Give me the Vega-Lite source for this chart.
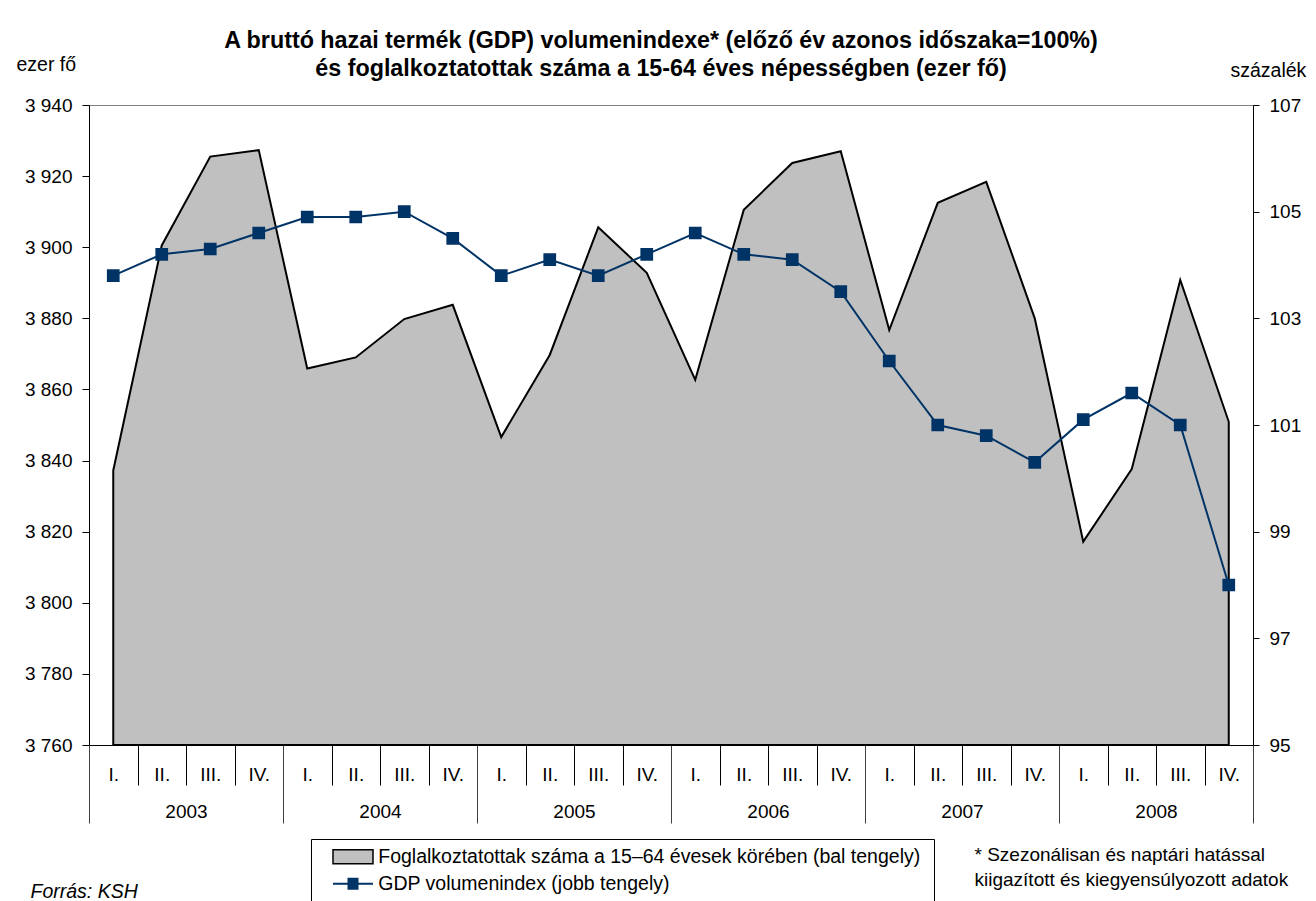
{
  "$schema": "https://vega.github.io/schema/vega-lite/v6.json",
  "width": 1164,
  "height": 640,
  "autosize": {"type": "none"},
  "padding": {"left": 89, "top": 105, "right": 63, "bottom": 156},
  "config": {
    "font": "Liberation Sans",
    "view": {"stroke": "#808080", "strokeWidth": 1},
    "axis": {"labelColor": "black", "tickColor": "black", "domainColor": "black", "labelFont": "Liberation Sans", "titleFont": "Liberation Sans", "titleColor": "black", "grid": false, "titleFontWeight": "normal"},
    "legend": {"labelFont": "Liberation Sans", "titleFont": "Liberation Sans"}
  },
  "title": {
    "text": ["A bruttó hazai termék (GDP) volumenindexe* (előző év azonos időszaka=100%)", "és foglalkoztatottak száma a 15-64 éves népességben (ezer fő)"],
    "fontSize": 23.3,
    "fontWeight": "bold",
    "anchor": "middle",
    "dx": -10,
    "offset": 22,
    "dy": 49,
    "lineHeight": 28,
    "color": "black",
    "font": "Liberation Sans"
  },
  "data": {
    "values": [
      {"t": 1, "year": 2003, "quarter": "I.", "emp": 3837.2, "gdp": 103.8},
      {"t": 2, "year": 2003, "quarter": "II.", "emp": 3900.5, "gdp": 104.2},
      {"t": 3, "year": 2003, "quarter": "III.", "emp": 3925.5, "gdp": 104.3},
      {"t": 4, "year": 2003, "quarter": "IV.", "emp": 3927.3, "gdp": 104.6},
      {"t": 5, "year": 2004, "quarter": "I.", "emp": 3865.9, "gdp": 104.9},
      {"t": 6, "year": 2004, "quarter": "II.", "emp": 3869.0, "gdp": 104.9},
      {"t": 7, "year": 2004, "quarter": "III.", "emp": 3879.8, "gdp": 105.0},
      {"t": 8, "year": 2004, "quarter": "IV.", "emp": 3883.8, "gdp": 104.5},
      {"t": 9, "year": 2005, "quarter": "I.", "emp": 3846.6, "gdp": 103.8},
      {"t": 10, "year": 2005, "quarter": "II.", "emp": 3869.7, "gdp": 104.1},
      {"t": 11, "year": 2005, "quarter": "III.", "emp": 3905.6, "gdp": 103.8},
      {"t": 12, "year": 2005, "quarter": "IV.", "emp": 3892.8, "gdp": 104.2},
      {"t": 13, "year": 2006, "quarter": "I.", "emp": 3862.7, "gdp": 104.6},
      {"t": 14, "year": 2006, "quarter": "II.", "emp": 3910.5, "gdp": 104.2},
      {"t": 15, "year": 2006, "quarter": "III.", "emp": 3923.7, "gdp": 104.1},
      {"t": 16, "year": 2006, "quarter": "IV.", "emp": 3927.0, "gdp": 103.5},
      {"t": 17, "year": 2007, "quarter": "I.", "emp": 3876.7, "gdp": 102.2},
      {"t": 18, "year": 2007, "quarter": "II.", "emp": 3912.5, "gdp": 101.0},
      {"t": 19, "year": 2007, "quarter": "III.", "emp": 3918.4, "gdp": 100.8},
      {"t": 20, "year": 2007, "quarter": "IV.", "emp": 3880.0, "gdp": 100.3},
      {"t": 21, "year": 2008, "quarter": "I.", "emp": 3817.2, "gdp": 101.1},
      {"t": 22, "year": 2008, "quarter": "II.", "emp": 3837.6, "gdp": 101.6},
      {"t": 23, "year": 2008, "quarter": "III.", "emp": 3890.8, "gdp": 101.0},
      {"t": 24, "year": 2008, "quarter": "IV.", "emp": 3850.9, "gdp": 98.0}
    ]
  },
  "layer": [
    {
      "mark": {"type": "area", "stroke": "black", "strokeWidth": 2},
      "encoding": {
        "x": {
          "field": "t", "type": "quantitative",
          "scale": {"domain": [0.5, 24.5], "nice": false, "zero": false},
          "axis": {
            "orient": "bottom",
            "values": [0.5, 1.5, 2.5, 3.5, 4.5, 5.5, 6.5, 7.5, 8.5, 9.5, 10.5, 11.5, 12.5, 13.5, 14.5, 15.5, 16.5, 17.5, 18.5, 19.5, 20.5, 21.5, 22.5, 23.5, 24.5],
            "labelExpr": "datum.value > 24 ? '' : ((datum.value - 0.5) % 4 == 0 ? 'I.' : ((datum.value - 0.5) % 4 == 1 ? 'II.' : ((datum.value - 0.5) % 4 == 2 ? 'III.' : 'IV.')))",
            "labelOffset": 24.25,
            "labelFlush": false,
            "labelOverlap": false,
            "labelFontSize": 19,
            "labelBaseline": "middle",
            "labelPadding": -11,
            "tickSize": 40,
            "tickWidth": 1,
            "domainWidth": 1,
            "title": "Forrás: KSH",
            "titleFontSize": 19.5,
            "titleFontStyle": "italic",
            "titleAlign": "left",
            "titleBaseline": "alphabetic",
            "titleX": -59,
            "titleY": 152
          }
        },
        "y": {
          "field": "emp", "type": "quantitative",
          "scale": {"domain": [3760, 3940], "nice": false, "zero": false},
          "axis": {
            "orient": "left",
            "values": [3760, 3780, 3800, 3820, 3840, 3860, 3880, 3900, 3920, 3940],
            "labelExpr": "replace(format(datum.value, ','), ',', ' ')",
            "labelFontSize": 19,
            "tickSize": 7,
            "labelPadding": 10,
            "title": "ezer fő",
            "titleFontSize": 19.5,
            "titleAngle": 0,
            "titleAlign": "left",
            "titleBaseline": "alphabetic",
            "titleX": -73,
            "titleY": -35
          }
        },
        "y2": {"datum": 3760},
        "fill": {
          "datum": "Foglalkoztatottak száma a 15–64 évesek körében  (bal tengely)",
          "type": "nominal",
          "scale": {"domain": ["Foglalkoztatottak száma a 15–64 évesek körében  (bal tengely)"], "range": ["#C0C0C0"]},
          "legend": {
            "orient": "none", "legendX": 222, "legendY": 734, "direction": "vertical",
            "title": " ", "titleOrient": "bottom", "titleFontSize": 19.5, "titlePadding": 10,
            "strokeColor": "black", "padding": 8,
            "symbolType": "M-4,-1.4H4V1.4H-4Z", "symbolStrokeColor": "black", "symbolStrokeWidth": 1.5, "symbolSize": 100,
            "symbolOffset": 24.25, "labelOffset": 15.5,
            "labelFontSize": 19.5, "labelLimit": 800, "labelColor": "black"
          }
        }
      }
    },
    {
      "mark": {"type": "line", "strokeWidth": 2, "point": {"shape": "square", "size": 115, "filled": true, "fill": "#003366"}},
      "encoding": {
        "x": {
          "field": "t", "type": "quantitative",
          "scale": {"domain": [0.5, 24.5], "nice": false, "zero": false},
          "axis": {
            "orient": "bottom",
            "values": [0.5, 4.5, 8.5, 12.5, 16.5, 20.5, 24.5],
            "labelExpr": "datum.value > 24 ? '' : '' + (2003 + (datum.value - 0.5) / 4)",
            "labelOffset": 97,
            "labelFlush": false,
            "labelOverlap": false,
            "labelFontSize": 19,
            "labelBaseline": "middle",
            "labelPadding": -11.5,
            "tickSize": 78,
            "tickWidth": 1,
            "tickColor": "#404040",
            "domain": false,
            "title": ["* Szezonálisan és naptári hatással", "kiigazított és kiegyensúlyozott adatok"],
            "titleFontSize": 19,
            "titleLineHeight": 25,
            "titleAlign": "left",
            "titleBaseline": "alphabetic",
            "titleX": 885,
            "titleY": 115
          }
        },
        "y": {
          "field": "gdp", "type": "quantitative",
          "scale": {"domain": [95, 107], "nice": false, "zero": false},
          "axis": {
            "orient": "right",
            "values": [95, 97, 99, 101, 103, 105, 107],
            "labelFontSize": 19,
            "tickSize": 6,
            "labelPadding": 10,
            "title": "százalék",
            "titleFontSize": 19.5,
            "titleAngle": 0,
            "titleAlign": "left",
            "titleBaseline": "alphabetic",
            "titleX": -23,
            "titleY": -29
          }
        },
        "stroke": {
          "datum": "GDP volumenindex (jobb tengely)",
          "type": "nominal",
          "scale": {"domain": ["GDP volumenindex (jobb tengely)"], "range": ["#003366"]},
          "legend": {
            "orient": "none", "legendX": 222, "legendY": 761, "direction": "vertical", "title": null,
            "padding": 8,
            "symbolType": "M-4,0H4M-1.1,-1H1.1M-1.1,-0.6H1.1M-1.1,-0.2H1.1M-1.1,0.2H1.1M-1.1,0.6H1.1M-1.1,1H1.1",
            "symbolStrokeWidth": 2, "symbolSize": 100,
            "symbolOffset": 24.25, "labelOffset": 15.5,
            "labelFontSize": 19.5, "labelLimit": 800, "labelColor": "black"
          }
        }
      }
    }
  ],
  "resolve": {"scale": {"x": "independent", "y": "independent"}}
}
